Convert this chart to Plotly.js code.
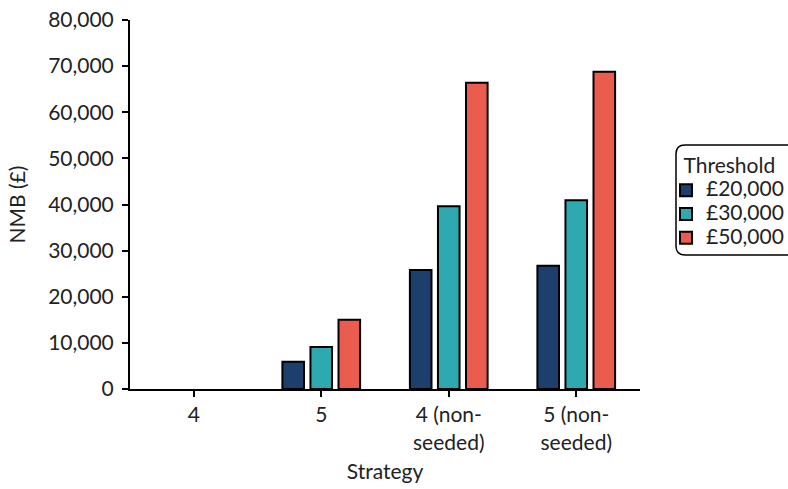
<!DOCTYPE html>
<html><head><meta charset="utf-8">
<script src="https://cdn.plot.ly/plotly-3.0.1.min.js"></script>
<style>html,body{margin:0;padding:0;background:#fff}#chart{width:788px;height:489px}</style>
</head><body><div id="chart"></div>
<script>
const categories = ["4", "5", "4 (non-<br>seeded)", "5 (non-<br>seeded)"];
const seriesNames = ["£20,000", "£30,000", "£50,000"];
const nmb20k = [null, 5900, 25800, 26700];
const nmb30k = [null, 9100, 39600, 40900];
const nmb50k = [null, 15000, 66400, 68800];
const colors = ["#1c3f6e", "#2ea9b0", "#e95c4e"];
const yTicks = [0, 10000, 20000, 30000, 40000, 50000, 60000, 70000, 80000];

const values = [nmb20k, nmb30k, nmb50k];
const traces = values.map((v, i) => ({
  type: "bar", x: categories, y: v,
  name: '<span style="font-size:21px">' + seriesNames[i] + '</span>',
  marker: {color: colors[i], line: {color: "#000", width: 2}}
}));

const L = 130, R = 640, T = 20, B = 389;
const pw = R - L, ph = B - T;
// rounded legend frame (pixel units, y negative = downward)
const r = 9, w = 130, h = 110;
const path = `M ${r},0 L ${w-r},0 Q ${w},0 ${w},${-r} L ${w},${-(h-r)} Q ${w},${-h} ${w-r},${-h} L ${r},${-h} Q 0,${-h} 0,${-(h-r)} L 0,${-r} Q 0,0 ${r},0 Z`;

const layout = {
  width: 788, height: 489,
  margin: {l: L, r: 788 - R, t: T, b: 489 - B, pad: 0, autoexpand: false},
  paper_bgcolor: "#fff", plot_bgcolor: "#fff",
  font: {family: "Lato, sans-serif", size: 21, color: "#222"},
  bargap: 0.34, bargroupgap: 0.23, barmode: "group",
  showlegend: true,
  legend: {
    x: (666 - L) / pw, y: (B - 146) / ph, xanchor: "left", yanchor: "top",
    title: {text: "\u00a0\u00a0\u00a0Threshold", font: {size: 21}},
    font: {size: 16}, borderwidth: 0, bgcolor: "rgba(0,0,0,0)",
    tracegroupgap: 0, traceorder: "normal"
  },
  xaxis: {
    type: "category", range: [-0.5, 3.5],
    title: {text: "Strategy", font: {size: 21}, standoff: 12},
    showline: true, linecolor: "#000", linewidth: 2,
    ticks: "outside", ticklen: 6, tickwidth: 2, tickcolor: "#000",
    showgrid: false, zeroline: false, tickfont: {size: 21}
  },
  yaxis: {
    range: [0, 80000], tickvals: yTicks, tickformat: ",d",
    title: {text: "NMB (£)", font: {size: 21}, standoff: 17},
    showline: true, linecolor: "#000", linewidth: 2,
    ticks: "outside", ticklen: 6, tickwidth: 2, tickcolor: "#000",
    ticklabelstandoff: 4,
    showgrid: false, zeroline: false, tickfont: {size: 21}
  },
  shapes: [{
    type: "path", xref: "paper", yref: "paper",
    xsizemode: "pixel", ysizemode: "pixel",
    xanchor: (676 - L) / pw, yanchor: (B - 145) / ph,
    path: path,
    line: {color: "#000", width: 1.5}, fillcolor: "rgba(0,0,0,0)", layer: "above"
  }]
};
Plotly.newPlot("chart", traces, layout, {displayModeBar: false, staticPlot: true});
</script></body></html>
